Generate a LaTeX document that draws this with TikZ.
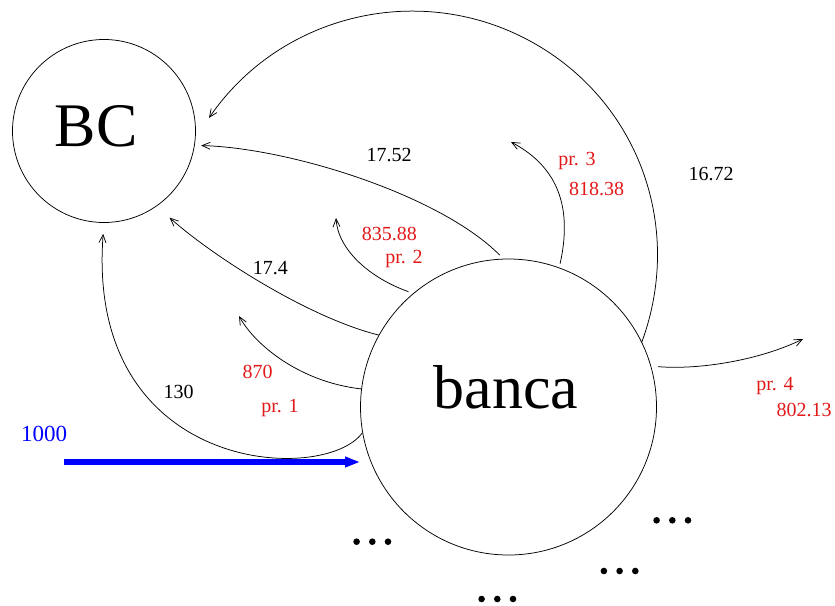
\documentclass[tikz,border=0pt]{standalone}
\usepackage{fontspec}
\setmainfont{Liberation Serif}
\usetikzlibrary{arrows.meta}
\definecolor{lblred}{RGB}{225,25,25}
\definecolor{lblblue}{RGB}{0,0,255}
\begin{document}
\begin{tikzpicture}[x=1pt,y=-1pt,line width=0.75pt,
  flow/.style={-{Straight Barb[length=8pt,width=7pt]}},
  lbl/.style={font=\fontsize{20}{24}\selectfont,anchor=base,inner sep=0pt},
  rlbl/.style={lbl,text=lblred},
  big/.style={font=\fontsize{62}{70}\selectfont,anchor=base,inner sep=0pt},
  ring/.style={draw,circle,inner sep=0pt},
  dotc/.style={fill=black}]
\useasboundingbox (0,0) rectangle (835,605);
% circles
\node[ring,minimum size=183pt] (BC) at (104,131) {};
\node[ring,minimum size=296pt] (banca) at (508.5,407) {};
\node[big] (BCt) at (96,146.7) {BC};
\node[big] (bancat) at (506,408.3) {banca};
% free ends
\coordinate (p1end) at (239,316);
\coordinate (p2end) at (336,218);
\coordinate (p3end) at (511,142);
\coordinate (p4end) at (803,339);
\coordinate (bs) at (64,462);
\coordinate (be) at (360,462);
% connectors to BC
\draw[flow,shorten >=11pt] (banca.190) .. controls (325,485) and (85,475) .. (BC.270);
\draw[flow,shorten >=17.2pt] (banca.151) .. controls (310,318) and (215,258) .. (BC.305.6);
\draw[flow,shorten <=5pt,shorten >=6.5pt] (banca.92) .. controls (440,195) and (290,148) .. (BC.351);
\draw[flow,shorten >=23.6pt] (banca.26) .. controls (685.4,223.2) and (635.4,95.3) .. (525.3,38.5)
   .. controls (415.2,-18.3) and (279,15.8) .. (BC.356);
% pr arrows
\draw[flow] (banca.173) .. controls (300,382) and (255,345) .. (p1end);
\draw[flow,shorten <=5pt] (banca.130) .. controls (370,278) and (338,250) .. (p2end);
\draw[flow,shorten <=4pt] (banca.70) .. controls (572,210) and (560,168) .. (p3end);
\draw[flow,shorten <=7pt] (banca.16.5) .. controls (700,370) and (760,360) .. (p4end);
% blue input
\draw[lblblue,line width=6.5pt,-{Triangle[length=15pt,width=10pt]}] (bs) -- (be);
\node[lbl,text=lblblue,font=\fontsize{23}{27}\selectfont] (in) at (44.2,441.7) {1000};
% labels
\node[lbl] (l130) at (178.7,398.3) {130};
\node[lbl] (l174) at (270.3,274) {17.4};
\node[lbl] (l1752) at (389,161) {17.52};
\node[lbl] (l1672) at (711,180) {16.72};
\node[rlbl] (l870) at (257.7,378.3) {870};
\node[rlbl] (lpr1) at (280,412.7) {pr. 1};
\node[rlbl] (l83588) at (389.3,240) {835.88};
\node[rlbl] (lpr2) at (404,263.3) {pr. 2};
\node[rlbl] (lpr3) at (577,165.7) {pr. 3};
\node[rlbl] (l81838) at (596.7,195) {818.38};
\node[rlbl] (lpr4) at (775,390) {pr. 4};
\node[rlbl] (l80213) at (804,416) {802.13};
% dots
\foreach \cx/\cy in {372.3/541.7, 497.3/599, 619.6/571, 672.3/520.3}{
  \foreach \dx in {-15.7,0,15.7}{
    \fill[dotc] (\cx+\dx,\cy) circle[radius=3.3];
  }
}
\end{tikzpicture}
\end{document}
